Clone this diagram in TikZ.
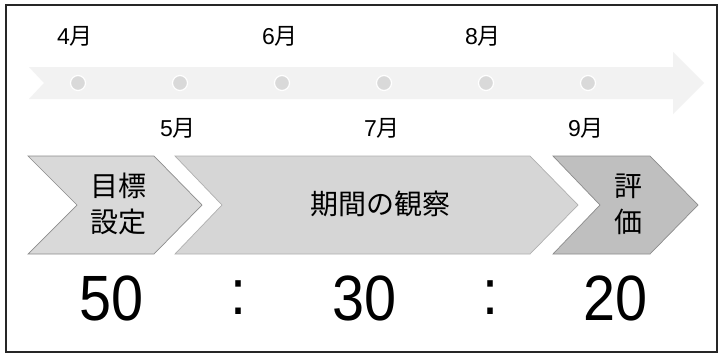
\documentclass[tikz,border=0pt]{standalone}
\usepackage{fontspec}
\setmainfont{Liberation Sans}
\newfontfamily\cjk{Noto Sans CJK JP}
\definecolor{bandgray}{HTML}{F2F2F2}
\definecolor{dotgray}{HTML}{D9D9D9}
\definecolor{chevA}{HTML}{D9D9D9}
\definecolor{chevB}{HTML}{D6D6D6}
\definecolor{chevC}{HTML}{BFBFBF}
\definecolor{edgeA}{HTML}{8C8C8C}
\definecolor{edgeB}{HTML}{B0B0B0}
\begin{document}
\begin{tikzpicture}[x=1pt,y=-1pt,
  month/.style={font=\fontsize{23}{25}\selectfont, inner sep=0pt},
  chevlabel/.style={font=\cjk\fontsize{28}{36}\selectfont, align=center, inner sep=0pt},
  ratio/.style={font=\fontsize{64}{64}\selectfont, inner sep=0pt, xscale=0.9},
  dotmark/.style={circle, fill=dotgray, draw=white, line width=1.2pt, minimum size=15pt, inner sep=0pt}]
\useasboundingbox (0,0) rectangle (723,354);
\fill[white] (0,0) rectangle (723,354);
\draw[line width=1.6pt, black!85] (6,5) rectangle (717,352);
% timeline band
\fill[bandgray] (29,67) -- (673,67) -- (673,52) -- (704,83) -- (673,114) -- (673,99) -- (29,99) -- (44,83) -- cycle;
\foreach \i/\x in {1/78,2/180,3/282,4/384,5/486,6/588}
  \node[dotmark] (d\i) at (\x,83) {};
% months
\node[month] (m4) at (75,36) {4{\cjk 月}};
\node[month] (m6) at (280,36) {6{\cjk 月}};
\node[month] (m8) at (483,36) {8{\cjk 月}};
\node[month] (m5) at (178,128) {5{\cjk 月}};
\node[month] (m7) at (382,128) {7{\cjk 月}};
\node[month] (m9) at (586,128) {9{\cjk 月}};
% chevrons
\draw[fill=chevA, draw=edgeA, line width=0.7pt] (28,156) -- (154,156) -- (202,205) -- (154,254) -- (28,254) -- (77,205) -- cycle;
\draw[fill=chevB, draw=edgeB, line width=0.7pt] (175,156) -- (530,156) -- (578,205) -- (530,254) -- (175,254) -- (222,205) -- cycle;
\draw[fill=chevC, draw=edgeA, line width=0.7pt] (553,156) -- (650,156) -- (698,205) -- (650,254) -- (553,254) -- (600,205) -- cycle;
\node[chevlabel] (c1) at (118,204) {目標\\設定};
\node[chevlabel] (c2) at (380,204) {期間の観察};
\node[chevlabel] (c3) at (628,204) {評\\価};
% ratio
\node[ratio] (r1) at (112,298) {50};
\node[ratio] (s1) at (238,298) {:};
\node[ratio] (r2) at (365,298) {30};
\node[ratio] (s2) at (490,298) {:};
\node[ratio] (r3) at (616,298) {20};
\end{tikzpicture}
\end{document}
